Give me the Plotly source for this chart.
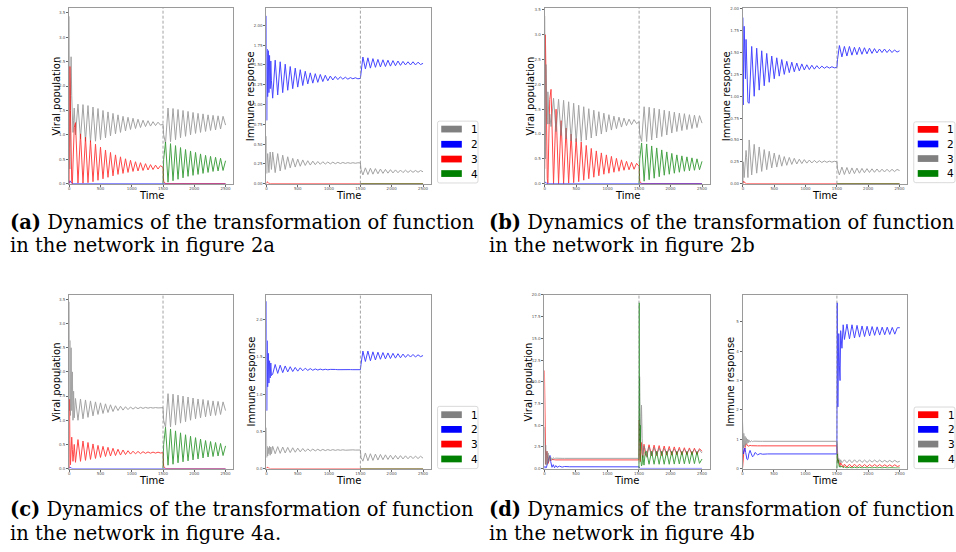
import plotly.graph_objects as go

W, H = 956, 552

# ---------------- time grids ----------------
time_grid = [0, 5, 10, 20, 30, 40, 50, 60, 70, 80,
             100, 140, 180, 220, 260, 300, 340, 380, 420, 460, 500, 540, 580, 620, 660,
             700, 740, 780, 820, 860, 900, 940, 980, 1020, 1060, 1100, 1140, 1180, 1220, 1260,
             1300, 1340, 1380, 1420, 1460,
             1500, 1510,
             1540, 1580, 1620, 1660, 1700, 1740, 1780, 1820, 1860, 1900, 1940, 1980, 2020, 2060,
             2100, 2140, 2180, 2220, 2260, 2300, 2340, 2380, 2420, 2460,
             2500]
post_grid = time_grid[45:]
zero_t = [0, 10, 30, 60, 2500]
post_zero_t = [1500, 2500]

time_grid_d = [0, 5, 10, 15, 20, 30, 40, 50, 60, 70, 80, 90, 100, 120, 140, 160, 180, 200,
               240, 280, 320, 360, 400,
               1500,
               1502, 1505, 1510, 1515, 1520, 1530, 1540, 1550, 1560, 1580, 1600, 1620,
               1660, 1700, 1740, 1780, 1820, 1860, 1900, 1940, 1980, 2020, 2060, 2100, 2140,
               2180, 2220, 2260, 2300, 2340, 2380, 2420, 2460,
               2500]
post_grid_d = time_grid_d[23:]

ZEROS24 = [0.0] * 24

# ---------------- panel (a) ----------------
a_viral_1 = [3.43, 0.5, 0.3, 1.8, 2.6, 1.8, 1.1, 1.05, 1.3, 1.55,
             1.00, 1.63, 0.92, 1.62, 0.87, 1.60, 0.85, 1.57, 0.87, 1.54, 0.90, 1.50, 0.94, 1.47,
             0.98, 1.44, 1.02, 1.41, 1.05, 1.38, 1.08, 1.36, 1.11, 1.34, 1.13, 1.32, 1.15, 1.30,
             1.17, 1.29, 1.18, 1.27, 1.19, 1.26, 1.20,
             1.22, 1.00,
             0.83, 1.55, 0.86, 1.54, 0.90, 1.52, 0.94, 1.50, 0.97, 1.48, 1.00, 1.46, 1.03, 1.44,
             1.05, 1.43, 1.07, 1.41, 1.09, 1.40, 1.10, 1.39, 1.12, 1.38,
             1.20]
a_viral_2 = [0.0, 0.06, 0.02, 0.0, 0.0]
a_viral_3 = [0.0, 1.6, 2.4, 1.5, 0.4, 0.05, 0.0, 0.3, 0.8, 1.15,
             1.25, 0.01, 1.02, 0.01, 0.95, 0.02, 0.88, 0.04, 0.81, 0.07, 0.75, 0.10, 0.69, 0.13,
             0.64, 0.16, 0.59, 0.19, 0.55, 0.21, 0.51, 0.23, 0.48, 0.25, 0.45, 0.26, 0.43, 0.27,
             0.41, 0.28, 0.39, 0.29, 0.38, 0.30, 0.37,
             0.33, 0.05] + ZEROS24 + [0.0]
a_viral_4 = [0.0, 0.5, 0.85, 0.03, 0.82, 0.06, 0.78, 0.09, 0.74, 0.12, 0.70, 0.15, 0.67, 0.17,
             0.64, 0.19, 0.61, 0.21, 0.58, 0.23, 0.56, 0.25, 0.54, 0.26, 0.52, 0.27, 0.47]

a_immune_1 = [0.6, 0.13, 0.25, 0.38, 0.2, 0.14, 0.3, 0.4, 0.3, 0.18,
              0.40, 0.14, 0.38, 0.16, 0.36, 0.18, 0.34, 0.20, 0.32, 0.21, 0.31, 0.22, 0.30, 0.23,
              0.29, 0.235, 0.285, 0.24, 0.28, 0.245, 0.277, 0.248, 0.274, 0.25, 0.272, 0.252,
              0.27, 0.254, 0.268, 0.256, 0.266, 0.257, 0.265, 0.258, 0.264,
              0.262, 0.18,
              0.11, 0.20, 0.115, 0.195, 0.12, 0.19, 0.125, 0.185, 0.13, 0.18, 0.133, 0.177,
              0.136, 0.174, 0.138, 0.172, 0.14, 0.17, 0.142, 0.168, 0.143, 0.167, 0.144, 0.166,
              0.15]
a_immune_2 = [2.12, 0.8, 1.7, 1.1, 1.68, 1.15, 1.62, 1.2, 1.55, 1.3,
              1.08, 1.56, 1.12, 1.54, 1.15, 1.51, 1.18, 1.48, 1.20, 1.46, 1.22, 1.44, 1.24, 1.42,
              1.26, 1.40, 1.27, 1.39, 1.28, 1.38, 1.29, 1.37, 1.30, 1.36, 1.31, 1.355, 1.315,
              1.35, 1.32, 1.345, 1.32, 1.34, 1.325, 1.338, 1.325,
              1.33, 1.40,
              1.60, 1.45, 1.59, 1.46, 1.58, 1.47, 1.57, 1.475, 1.565, 1.48, 1.56, 1.485, 1.555,
              1.49, 1.55, 1.495, 1.545, 1.50, 1.54, 1.50, 1.54, 1.50, 1.535, 1.505,
              1.52]
a_immune_3 = [0.0, 0.025, 0.01, 0.0, 0.0]
a_immune_4 = [0.0, 0.0]

# ---------------- panel (b) ----------------
b_viral_1 = [0.3, 2.0, 3.0, 2.2, 0.8, 0.1, 0.0, 0.4, 1.2, 1.7,
             1.90, 0.0, 1.50, 0.0, 1.27, 0.0, 1.12, 0.01, 1.00, 0.02, 0.91, 0.04, 0.84, 0.07,
             0.77, 0.10, 0.71, 0.13, 0.66, 0.16, 0.62, 0.19, 0.58, 0.21, 0.55, 0.23, 0.51, 0.25,
             0.48, 0.27, 0.45, 0.28, 0.43, 0.29, 0.41,
             0.35, 0.05] + ZEROS24 + [0.0]
b_viral_2 = [0.0, 0.03, 0.01, 0.0, 0.0]
b_viral_3 = [3.38, 1.0, 0.5, 2.4, 1.6, 1.2, 1.85, 1.5, 1.2, 1.4,
             1.15, 1.72, 1.05, 1.70, 0.97, 1.68, 0.90, 1.65, 0.86, 1.62, 0.84, 1.58, 0.85, 1.55,
             0.88, 1.51, 0.92, 1.48, 0.96, 1.45, 1.00, 1.42, 1.04, 1.39, 1.08, 1.36, 1.11, 1.34,
             1.14, 1.32, 1.17, 1.30, 1.19, 1.29, 1.21,
             1.25, 1.00,
             0.85, 1.55, 0.85, 1.54, 0.88, 1.52, 0.92, 1.50, 0.95, 1.48, 0.98, 1.46, 1.02, 1.44,
             1.05, 1.42, 1.07, 1.41, 1.09, 1.39, 1.11, 1.38, 1.13, 1.37,
             1.22]
b_viral_4 = [0.0, 0.5, 0.82, 0.05, 0.80, 0.08, 0.76, 0.11, 0.72, 0.14, 0.68, 0.17, 0.64, 0.19,
             0.61, 0.21, 0.58, 0.23, 0.56, 0.25, 0.54, 0.26, 0.52, 0.27, 0.50, 0.28, 0.45]

b_immune_1 = [0.0, 0.03, 0.01, 0.0, 0.0]
b_immune_2 = [1.9, 0.9, 1.3, 1.8, 1.6, 1.2, 1.65, 1.3, 1.0, 0.93,
              0.92, 1.57, 1.00, 1.55, 1.07, 1.52, 1.12, 1.49, 1.16, 1.46, 1.20, 1.44, 1.23, 1.42,
              1.25, 1.40, 1.27, 1.39, 1.28, 1.38, 1.29, 1.37, 1.30, 1.36, 1.305, 1.355, 1.31,
              1.35, 1.315, 1.345, 1.32, 1.34, 1.322, 1.338, 1.325,
              1.33, 1.42,
              1.58, 1.45, 1.57, 1.46, 1.57, 1.47, 1.56, 1.475, 1.56, 1.48, 1.555, 1.485, 1.55,
              1.49, 1.545, 1.495, 1.54, 1.50, 1.54, 1.50, 1.535, 1.50, 1.53, 1.505,
              1.52]
b_immune_3 = [0.0, 0.25, 0.2, 0.07, 0.15, 0.3, 0.38, 0.3, 0.15, 0.07,
              0.50, 0.10, 0.45, 0.12, 0.42, 0.14, 0.39, 0.16, 0.37, 0.18, 0.35, 0.19, 0.33, 0.20,
              0.31, 0.21, 0.30, 0.22, 0.29, 0.225, 0.28, 0.23, 0.275, 0.235, 0.27, 0.237, 0.266,
              0.24, 0.263, 0.242, 0.26, 0.244, 0.258, 0.246, 0.256,
              0.25, 0.17,
              0.10, 0.19, 0.105, 0.185, 0.11, 0.18, 0.115, 0.178, 0.12, 0.175, 0.125, 0.172,
              0.128, 0.17, 0.13, 0.168, 0.132, 0.166, 0.134, 0.165, 0.136, 0.164, 0.138, 0.163,
              0.15]
b_immune_4 = [0.0, 0.0]

# ---------------- panel (c) ----------------
c_viral_1 = [3.45, 1.2, 2.65, 1.1, 2.5, 1.2, 2.0, 1.0, 1.6, 1.05,
             1.45, 1.00, 1.44, 1.03, 1.42, 1.06, 1.40, 1.09, 1.38, 1.12, 1.36, 1.14, 1.34, 1.16,
             1.32, 1.18, 1.30, 1.20, 1.29, 1.21, 1.28, 1.22, 1.275, 1.23, 1.27, 1.24, 1.268,
             1.245, 1.266, 1.25, 1.264, 1.252, 1.262, 1.255, 1.26,
             1.26, 1.00,
             0.85, 1.55, 0.86, 1.54, 0.90, 1.52, 0.94, 1.50, 0.97, 1.48, 1.00, 1.46, 1.03, 1.44,
             1.05, 1.43, 1.07, 1.41, 1.09, 1.40, 1.10, 1.39, 1.12, 1.38,
             1.20]
c_viral_2 = [0.0, 0.03, 0.01, 0.0, 0.0]
c_viral_3 = [0.0, 1.43, 0.6, 0.08, 0.4, 0.65, 0.4, 0.15, 0.3, 0.5,
             0.13, 0.60, 0.15, 0.57, 0.17, 0.54, 0.19, 0.51, 0.21, 0.48, 0.23, 0.46, 0.25, 0.44,
             0.26, 0.42, 0.27, 0.40, 0.28, 0.385, 0.29, 0.37, 0.30, 0.36, 0.305, 0.355, 0.31,
             0.35, 0.315, 0.345, 0.318, 0.342, 0.32, 0.34, 0.322,
             0.33, 0.05] + ZEROS24 + [0.0]
c_viral_4 = [0.0, 0.5, 0.85, 0.07, 0.82, 0.09, 0.78, 0.12, 0.74, 0.14, 0.70, 0.16, 0.67, 0.18,
             0.64, 0.20, 0.61, 0.22, 0.58, 0.24, 0.56, 0.25, 0.54, 0.26, 0.52, 0.27, 0.47]

c_immune_1 = [0.55, 0.15, 0.3, 0.17, 0.28, 0.2, 0.3, 0.18, 0.29, 0.2,
              0.30, 0.20, 0.295, 0.205, 0.29, 0.21, 0.285, 0.215, 0.28, 0.22, 0.275, 0.225,
              0.27, 0.23, 0.265, 0.235, 0.262, 0.238, 0.26, 0.24, 0.258, 0.242, 0.256, 0.244,
              0.255, 0.245, 0.254, 0.246, 0.253, 0.247, 0.252, 0.248, 0.252, 0.249, 0.251,
              0.25, 0.15,
              0.10, 0.21, 0.105, 0.20, 0.11, 0.195, 0.115, 0.19, 0.12, 0.185, 0.123, 0.18,
              0.126, 0.177, 0.128, 0.174, 0.13, 0.172, 0.132, 0.17, 0.134, 0.168, 0.135, 0.166,
              0.14]
c_immune_2 = [2.25, 0.78, 1.72, 1.1, 1.55, 1.15, 1.45, 1.22, 1.42, 1.25,
              1.27, 1.40, 1.28, 1.39, 1.29, 1.38, 1.30, 1.37, 1.305, 1.36, 1.31, 1.355, 1.315,
              1.35, 1.32, 1.345, 1.322, 1.34, 1.325, 1.338, 1.327, 1.336, 1.328, 1.334, 1.329,
              1.333, 1.33, 1.332, 1.33, 1.331, 1.33, 1.331, 1.33, 1.33, 1.33,
              1.33, 1.40,
              1.58, 1.44, 1.58, 1.45, 1.57, 1.46, 1.565, 1.47, 1.56, 1.475, 1.555, 1.48, 1.55,
              1.485, 1.545, 1.49, 1.54, 1.495, 1.535, 1.50, 1.535, 1.50, 1.53, 1.505,
              1.52]
c_immune_3 = [0.0, 0.02, 0.01, 0.0, 0.0]
c_immune_4 = [0.0, 0.0]

# ---------------- panel (d) ----------------
d_viral_1 = [11.3, 6.0, 2.5, 1.0, 0.5, 1.5, 2.0, 1.2, 0.6, 1.0, 1.4, 1.1, 0.9, 1.05, 1.0, 1.02,
             1.0, 1.0, 1.0, 1.0, 1.0, 1.0, 1.0,
             1.0,
             3.0, 5.6, 3.5, 1.5, 0.8, 2.0, 3.0, 1.8, 1.4, 2.8, 1.7, 1.4,
             2.75, 1.45, 2.7, 1.5, 2.65, 1.5, 2.6, 1.55, 2.55, 1.55, 2.5, 1.6, 2.45, 1.6, 2.4,
             1.62, 2.38, 1.63, 2.35, 1.65, 2.3,
             2.0]
d_viral_2 = [0.0, 0.3, 0.2, 0.1, 0.05, 0.1, 0.3, 0.6, 0.9, 1.2, 1.45, 1.5, 0.8, 0.15, 0.45, 0.1,
             0.35, 0.15, 0.28, 0.17, 0.24, 0.19, 0.21,
             0.2,
             0.15, 0.1, 0.05, 0.03, 0.02, 0.02, 0.02, 0.02, 0.02, 0.02, 0.02, 0.02,
             0.02, 0.02, 0.02, 0.02, 0.02, 0.02, 0.02, 0.02, 0.02, 0.02, 0.02, 0.02, 0.02, 0.02,
             0.02, 0.02, 0.02, 0.02, 0.02, 0.02, 0.02,
             0.02]
d_viral_3 = [4.8, 3.0, 1.0, 0.5, 2.7, 0.4, 2.0, 0.5, 1.8, 0.8, 1.5, 0.9, 1.3, 1.0, 1.25, 1.15,
             1.2, 1.18, 1.18, 1.18, 1.18, 1.18, 1.18,
             1.18,
             4.0, 8.0, 10.6, 6.0, 2.0, 5.0, 7.3, 3.5, 1.2, 2.6, 2.2, 1.3,
             2.5, 1.5, 2.4, 1.6, 2.35, 1.7, 2.3, 1.75, 2.25, 1.8, 2.25, 1.82, 2.2, 1.85, 2.2,
             1.87, 2.18, 1.88, 2.17, 1.9, 2.15,
             1.8]
d_viral_4 = [0.0,
             12.0, 19.1, 8.0, 3.0, 5.0, 1.0, 0.3, 0.5, 1.5, 0.4, 1.9, 2.0,
             0.5, 2.0, 0.5, 2.0, 0.5, 2.0, 0.5, 2.0, 0.5, 1.98, 0.52, 1.97, 0.53, 1.96, 0.55,
             1.95, 0.56, 1.94, 0.57, 1.93, 0.6,
             1.1]

d_immune_1 = [0.0, 0.2, 0.35, 0.45, 0.55, 0.65, 0.75, 0.82, 0.85, 0.82, 0.78, 0.76, 0.77, 0.79,
              0.78, 0.775, 0.775, 0.775, 0.775, 0.775, 0.775, 0.775, 0.775,
              0.775,
              0.7, 0.5, 0.3, 0.25, 0.3, 0.2, 0.12, 0.1, 0.2, 0.1, 0.05, 0.15,
              0.05, 0.15, 0.05, 0.15, 0.06, 0.15, 0.06, 0.14, 0.06, 0.14, 0.07, 0.14, 0.07, 0.14,
              0.07, 0.13, 0.07, 0.13, 0.07, 0.13, 0.07,
              0.1]
d_immune_2 = [0.7, 0.8, 0.6, 0.5, 0.55, 0.65, 0.7, 0.55, 0.4, 0.32, 0.3, 0.35, 0.5, 0.62, 0.5,
              0.4, 0.45, 0.55, 0.47, 0.51, 0.49, 0.5, 0.5,
              0.5,
              3.0, 5.65, 4.0, 2.1, 3.0, 4.6, 3.5, 3.0, 4.7, 4.1, 4.9, 4.4,
              4.92, 4.42, 4.9, 4.45, 4.88, 4.48, 4.86, 4.5, 4.85, 4.52, 4.84, 4.54, 4.83, 4.55,
              4.82, 4.56, 4.82, 4.57, 4.81, 4.58, 4.8,
              4.8]
d_immune_3 = [1.6, 1.3, 0.9, 0.7, 1.2, 0.75, 1.1, 0.8, 1.05, 0.85, 1.0, 0.88, 0.98, 0.9, 0.95,
              0.92, 0.935, 0.93, 0.93, 0.93, 0.93, 0.93, 0.93,
              0.93,
              0.8, 0.85, 0.6, 0.4, 0.3, 0.35, 0.25, 0.2, 0.3, 0.2, 0.25, 0.3,
              0.2, 0.3, 0.2, 0.3, 0.21, 0.3, 0.21, 0.29, 0.21, 0.29, 0.22, 0.29, 0.22, 0.29,
              0.22, 0.28, 0.22, 0.28, 0.22, 0.28, 0.22,
              0.25]
d_immune_4 = [0.0,
              0.3, 0.5, 0.35, 0.2, 0.3, 0.15, 0.05, 0.1, 0.05, 0.08, 0.03, 0.06,
              0.02, 0.05, 0.02, 0.05, 0.02, 0.05, 0.02, 0.04, 0.02, 0.04, 0.02, 0.04, 0.02, 0.04,
              0.02, 0.04, 0.02, 0.03, 0.02, 0.03, 0.02,
              0.02]

# ---------------- ticks, labels, captions ----------------
x_ticks = [0, 500, 1000, 1500, 2000, 2500]
x_tick_labels = ["0", "500", "1000", "1500", "2000", "2500"]
y_ticks_viral = [0.0, 0.5, 1.0, 1.5, 2.0, 2.5, 3.0, 3.5]
y_labels_viral = ["0.0", "0.5", "1.0", "1.5", "2.0", "2.5", "3.0", "3.5"]
y_ticks_immune_ab = [0.0, 0.25, 0.5, 0.75, 1.0, 1.25, 1.5, 1.75, 2.0]
y_labels_immune_ab = ["0.00", "0.25", "0.50", "0.75", "1.00", "1.25", "1.50", "1.75", "2.00"]
y_ticks_immune_c = [0.0, 0.5, 1.0, 1.5, 2.0]
y_labels_immune_c = ["0.0", "0.5", "1.0", "1.5", "2.0"]
y_ticks_viral_d = [0.0, 2.5, 5.0, 7.5, 10.0, 12.5, 15.0, 17.5, 20.0]
y_labels_viral_d = ["0.0", "2.5", "5.0", "7.5", "10.0", "12.5", "15.0", "17.5", "20.0"]
y_ticks_immune_d = [0, 1, 2, 3, 4, 5]
y_labels_immune_d = ["0", "1", "2", "3", "4", "5"]
y_max = {1: 3.6, 2: 2.22, 3: 3.54, 4: 2.01, 5: 3.6, 6: 2.34, 7: 20.05, 8: 5.93}
x_max = 2620
switch_time = 1500

legend_labels = ["1", "2", "3", "4"]
caption_tags = ["(a)", "(b)", "(c)", "(d)"]
caption_line1 = "Dynamics of the transformation of function"
caption_line2 = ["in the network in figure 2a", "in the network in figure 2b",
                 "in the network in figure 4a.", "in the network in figure 4b"]
viral_title = "Viral population"
immune_title = "Immune response"
time_title = "Time"

# ---------------- styling / layout (pixels) ----------------
GRAY, BLUE, RED, GREEN = "#808080", "#0000ff", "#ff0000", "#008000"

axes_px = {  # left, top, right, bottom
    1: (68.3, 6.0, 232.3, 183.0),
    2: (265.7, 6.0, 430.0, 183.0),
    3: (544.3, 6.0, 709.3, 183.0),
    4: (742.7, 6.0, 907.0, 183.0),
    5: (68.3, 294.7, 232.3, 470.0),
    6: (265.7, 294.7, 430.0, 470.0),
    7: (544.0, 294.7, 709.3, 470.0),
    8: (742.3, 294.7, 907.3, 470.0),
}
ytick_sets = {1: (y_ticks_viral, y_labels_viral), 2: (y_ticks_immune_ab, y_labels_immune_ab),
              3: (y_ticks_viral, y_labels_viral), 4: (y_ticks_immune_ab, y_labels_immune_ab),
              5: (y_ticks_viral, y_labels_viral), 6: (y_ticks_immune_c, y_labels_immune_c),
              7: (y_ticks_viral_d, y_labels_viral_d), 8: (y_ticks_immune_d, y_labels_immune_d)}
ytitle_offset = {1: 12.5, 2: 16.0, 3: 14.0, 4: 16.5, 5: 12.5, 6: 14.5, 7: 15.5, 8: 11.5}

panels = [
    dict(axes=(1, 2), colors=[GRAY, BLUE, RED, GREEN],
         viral=[(time_grid, a_viral_1), (zero_t, a_viral_2), (time_grid, a_viral_3), (post_grid, a_viral_4)],
         immune=[(time_grid, a_immune_1), (time_grid, a_immune_2), (zero_t, a_immune_3), (post_zero_t, a_immune_4)],
         legend=dict(box=(437.0, 120.0, 477.5, 182.3), rx=(440.7, 461.3), tx=469.5,
                     rows=[128.0, 143.3, 158.2, 172.8]),
         cap=(8.0, 222.0, 245.5)),
    dict(axes=(3, 4), colors=[RED, BLUE, GRAY, GREEN],
         viral=[(time_grid, b_viral_1), (zero_t, b_viral_2), (time_grid, b_viral_3), (post_grid, b_viral_4)],
         immune=[(zero_t, b_immune_1), (time_grid, b_immune_2), (time_grid, b_immune_3), (post_zero_t, b_immune_4)],
         legend=dict(box=(913.7, 120.7, 955.0, 182.0), rx=(917.7, 938.3), tx=946.0,
                     rows=[128.3, 143.0, 157.7, 172.7]),
         cap=(488.0, 222.0, 245.5)),
    dict(axes=(5, 6), colors=[GRAY, BLUE, RED, GREEN],
         viral=[(time_grid, c_viral_1), (zero_t, c_viral_2), (time_grid, c_viral_3), (post_grid, c_viral_4)],
         immune=[(time_grid, c_immune_1), (time_grid, c_immune_2), (zero_t, c_immune_3), (post_zero_t, c_immune_4)],
         legend=dict(box=(437.0, 407.3, 477.5, 470.0), rx=(440.7, 461.3), tx=469.5,
                     rows=[415.7, 430.5, 445.3, 460.3]),
         cap=(8.0, 511.5, 535.0)),
    dict(axes=(7, 8), colors=[RED, BLUE, GRAY, GREEN],
         viral=[(time_grid_d, d_viral_1), (time_grid_d, d_viral_2), (time_grid_d, d_viral_3), (post_grid_d, d_viral_4)],
         immune=[(time_grid_d, d_immune_1), (time_grid_d, d_immune_2), (time_grid_d, d_immune_3), (post_grid_d, d_immune_4)],
         legend=dict(box=(914.0, 408.0, 955.0, 470.0), rx=(918.0, 938.3), tx=946.5,
                     rows=[415.7, 430.5, 445.3, 460.3]),
         cap=(488.0, 511.5, 535.0)),
]


def fx(px):
    return px / W


def fy(py):
    return 1 - py / H


fig = go.Figure()
layout = dict(width=W, height=H, margin=dict(l=0, r=0, t=0, b=0), autosize=False,
              paper_bgcolor="white", plot_bgcolor="white", showlegend=False,
              font=dict(family="DejaVu Sans", color="black"))
shapes, annotations = [], []

SPINE = "#9a9a9a"

for n in range(1, 9):
    l, t, r, b = axes_px[n]
    sfx = "" if n == 1 else str(n)
    yt, yl = ytick_sets[n]
    layout["xaxis" + sfx] = dict(domain=[fx(l), fx(r)], range=[0, x_max], anchor="y" + sfx,
                                 tickmode="array", tickvals=x_ticks, ticktext=x_tick_labels,
                                 showline=True, mirror=True, linecolor=SPINE, linewidth=1,
                                 ticks="outside", ticklen=2, tickwidth=0.6, tickcolor="#666",
                                 tickfont=dict(size=4, color="#555"), showgrid=False,
                                 ticklabelstandoff=-1,
                                 zeroline=False, fixedrange=True)
    layout["yaxis" + sfx] = dict(domain=[fy(b), fy(t)], range=[0, y_max[n]], anchor="x" + sfx,
                                 tickmode="array", tickvals=yt, ticktext=yl,
                                 showline=True, mirror=True, linecolor=SPINE, linewidth=1,
                                 ticks="outside", ticklen=2, tickwidth=0.6, tickcolor="#666",
                                 tickfont=dict(size=4, color="#555"), showgrid=False,
                                 zeroline=False, fixedrange=True)
    shapes.append(dict(type="line", xref="x" + sfx, yref="y" + sfx + " domain",
                       x0=switch_time, x1=switch_time, y0=0, y1=1,
                       line=dict(color="#8c8c8c", width=0.8, dash="3px,2px")))
    cy = (t + b) / 2
    annotations.append(dict(text=viral_title if n % 2 == 1 else immune_title,
                            x=fx(l - ytitle_offset[n]), y=fy(cy), xref="paper", yref="paper",
                            textangle=-90, showarrow=False, xanchor="center", yanchor="middle",
                            borderpad=0,
                            font=dict(size=10, family="DejaVu Sans", color="black")))
    annotations.append(dict(text=time_title, x=fx((l + r) / 2), y=fy(b + 11.8), xref="paper",
                            yref="paper", showarrow=False, xanchor="center", yanchor="middle",
                            borderpad=0,
                            font=dict(size=10, family="DejaVu Sans", color="black")))

for pi, p in enumerate(panels):
    nv, ni = p["axes"]
    for n, series in ((nv, p["viral"]), (ni, p["immune"])):
        sfx = "" if n == 1 else str(n)
        for color, (tt, vv) in zip(p["colors"], series):
            fig.add_trace(go.Scatter(x=tt, y=vv, mode="lines",
                                     line=dict(color=color, width=1), opacity=0.72,
                                     xaxis="x" + sfx, yaxis="y" + sfx,
                                     hoverinfo="skip", showlegend=False))
    lg = p["legend"]
    x0, y0, x1, y1 = lg["box"]
    rpx = 2.0
    rx, ry = rpx / W, rpx / H
    X0, X1, Y0, Y1 = fx(x0), fx(x1), fy(y0), fy(y1)
    path = (f"M {X0 + rx},{Y0} L {X1 - rx},{Y0} Q {X1},{Y0} {X1},{Y0 - ry} "
            f"L {X1},{Y1 + ry} Q {X1},{Y1} {X1 - rx},{Y1} L {X0 + rx},{Y1} "
            f"Q {X0},{Y1} {X0},{Y1 + ry} L {X0},{Y0 - ry} Q {X0},{Y0} {X0 + rx},{Y0} Z")
    shapes.append(dict(type="path", xref="paper", yref="paper", path=path,
                       fillcolor="rgba(255,255,255,0.85)", line=dict(color="#d0d0d0", width=0.8)))
    for color, label, cyr in zip(p["colors"], legend_labels, lg["rows"]):
        shapes.append(dict(type="rect", xref="paper", yref="paper",
                           x0=fx(lg["rx"][0]), x1=fx(lg["rx"][1]),
                           y0=fy(cyr + 3.4), y1=fy(cyr - 3.4),
                           fillcolor=color, line=dict(width=0)))
        annotations.append(dict(text=label, x=fx(lg["tx"]), y=fy(cyr), xref="paper", yref="paper",
                                showarrow=False, xanchor="left", yanchor="middle", borderpad=0,
                                font=dict(size=10.5, family="DejaVu Sans", color="black")))
    cx, m1, m2 = p["cap"]
    fs = 19.5
    annotations.append(dict(text=f"<b>{caption_tags[pi]}</b> {caption_line1}",
                            x=fx(cx), y=fy(m1), xref="paper", yref="paper",
                            showarrow=False, xanchor="left", yanchor="middle", borderpad=0,
                            font=dict(size=fs, family="DejaVu Serif", color="black")))
    annotations.append(dict(text=caption_line2[pi],
                            x=fx(cx), y=fy(m2), xref="paper", yref="paper",
                            showarrow=False, xanchor="left", yanchor="middle", borderpad=0,
                            font=dict(size=fs, family="DejaVu Serif", color="black")))

layout["shapes"] = shapes
layout["annotations"] = annotations
fig.update_layout(**layout)
fig.write_html("out.html", config={"displayModeBar": False},
               post_script="document.body.style.margin='0';")
